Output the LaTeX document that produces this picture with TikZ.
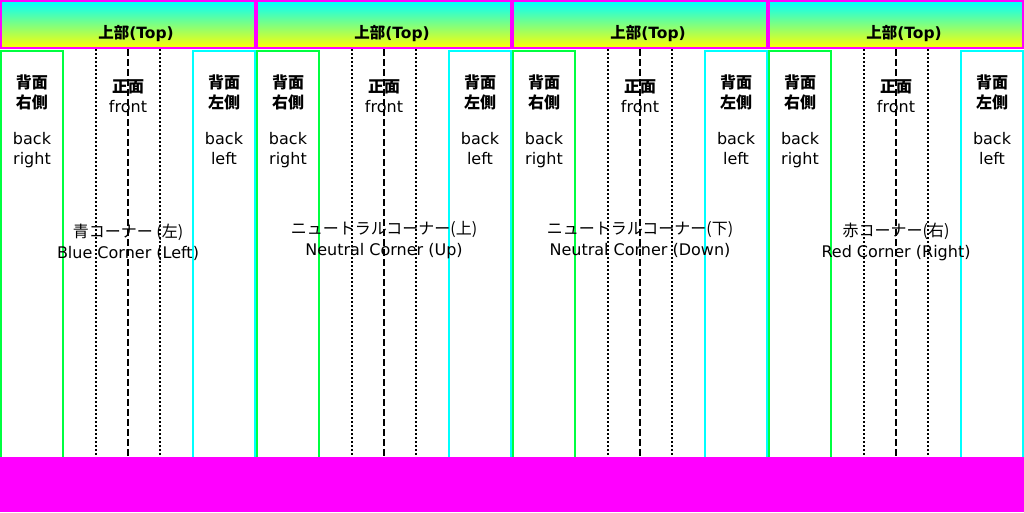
\documentclass[tikz,border=0pt]{standalone}
\usepackage{fontspec}
\setmainfont{DejaVu Sans}
\newfontfamily\jpfont{Noto Sans CJK JP}
\usetikzlibrary{positioning,calc}
\definecolor{ropemagenta}{RGB}{255,0,255}
\definecolor{barcyan}{RGB}{0,255,255}
\definecolor{baryellow}{RGB}{255,255,0}
\definecolor{rightgreen}{RGB}{0,255,64}
\definecolor{leftcyan}{RGB}{0,255,255}
\newcommand{\jp}[1]{{\jpfont #1}}

\begin{document}
\begin{tikzpicture}[x=1pt, y=-1pt,
  font=\fontsize{16}{20}\selectfont,
  topbar/.style={rectangle, draw=ropemagenta, line width=2pt, top color=barcyan, bottom color=baryellow, minimum width=254pt, minimum height=47pt, inner sep=0pt},
  toptext/.style={inner sep=0pt, xshift=8pt, font=\fontsize{15.5}{20}\selectfont\bfseries},
  backright/.style={rectangle, draw=rightgreen, line width=2pt, minimum width=62pt, minimum height=407pt, inner sep=0pt},
  backleft/.style={rectangle, draw=leftcyan, line width=2pt, minimum width=62pt, minimum height=407pt, inner sep=0pt},
  sidetext/.style={inner sep=0pt, align=center},
  cornertext/.style={inner sep=0pt, align=center, font=\fontsize{16}{21}\selectfont},
  centerline/.style={draw=black, line width=2pt, dash pattern=on 7pt off 3pt},
  sideline/.style={draw=black, line width=2pt, dash pattern=on 2pt off 2pt},
  floorbar/.style={rectangle, fill=ropemagenta, minimum width=1024pt, minimum height=55pt, inner sep=0pt}
]
\useasboundingbox (0,0) rectangle (1024,512);
\fill[white] (0,0) rectangle (1024,512);

% top bars
\node[topbar] (t1) at (128,24.5) {};
\node[topbar] (t2) at (384,24.5) {};
\node[topbar] (t3) at (640,24.5) {};
\node[topbar] (t4) at (896,24.5) {};
\node[toptext, above=7pt of t1.south] {\jp{上部}(Top)};
\node[toptext, above=7pt of t2.south] {\jp{上部}(Top)};
\node[toptext, above=7pt of t3.south] {\jp{上部}(Top)};
\node[toptext, above=7pt of t4.south] {\jp{上部}(Top)};

% back sides
\node[backright] (br1) at (32,254.5) {};
\node[backleft]  (bl1) at (224,254.5) {};
\node[backright] (br2) at (288,254.5) {};
\node[backleft]  (bl2) at (480,254.5) {};
\node[backright] (br3) at (544,254.5) {};
\node[backleft]  (bl3) at (736,254.5) {};
\node[backright] (br4) at (800,254.5) {};
\node[backleft]  (bl4) at (992,254.5) {};

% floor
\node[floorbar] (floor) at (512,484.5) {};

% front lines
\draw[sideline] ($(t1.south)+(-32,0)$) -- ($(t1.south |- floor.north)+(-32,0)$);
\draw[centerline] (t1.south) -- (t1.south |- floor.north);
\draw[sideline] ($(t1.south)+(32,0)$) -- ($(t1.south |- floor.north)+(32,0)$);
\draw[sideline] ($(t2.south)+(-32,0)$) -- ($(t2.south |- floor.north)+(-32,0)$);
\draw[centerline] (t2.south) -- (t2.south |- floor.north);
\draw[sideline] ($(t2.south)+(32,0)$) -- ($(t2.south |- floor.north)+(32,0)$);
\draw[sideline] ($(t3.south)+(-32,0)$) -- ($(t3.south |- floor.north)+(-32,0)$);
\draw[centerline] (t3.south) -- (t3.south |- floor.north);
\draw[sideline] ($(t3.south)+(32,0)$) -- ($(t3.south |- floor.north)+(32,0)$);
\draw[sideline] ($(t4.south)+(-32,0)$) -- ($(t4.south |- floor.north)+(-32,0)$);
\draw[centerline] (t4.south) -- (t4.south |- floor.north);
\draw[sideline] ($(t4.south)+(32,0)$) -- ($(t4.south |- floor.north)+(32,0)$);

% side labels
\node[sidetext, below=25pt of br1.north] {\jp{\textbf{背面}}\\\jp{\textbf{右側}}\\[16pt]back\\right};
\node[sidetext, below=25pt of bl1.north] {\jp{\textbf{背面}}\\\jp{\textbf{左側}}\\[16pt]back\\left};
\node[sidetext, below=30pt of t1.south] {\jp{\textbf{正面}}\\front};
\node[sidetext, below=25pt of br2.north] {\jp{\textbf{背面}}\\\jp{\textbf{右側}}\\[16pt]back\\right};
\node[sidetext, below=25pt of bl2.north] {\jp{\textbf{背面}}\\\jp{\textbf{左側}}\\[16pt]back\\left};
\node[sidetext, below=30pt of t2.south] {\jp{\textbf{正面}}\\front};
\node[sidetext, below=25pt of br3.north] {\jp{\textbf{背面}}\\\jp{\textbf{右側}}\\[16pt]back\\right};
\node[sidetext, below=25pt of bl3.north] {\jp{\textbf{背面}}\\\jp{\textbf{左側}}\\[16pt]back\\left};
\node[sidetext, below=30pt of t3.south] {\jp{\textbf{正面}}\\front};
\node[sidetext, below=25pt of br4.north] {\jp{\textbf{背面}}\\\jp{\textbf{右側}}\\[16pt]back\\right};
\node[sidetext, below=25pt of bl4.north] {\jp{\textbf{背面}}\\\jp{\textbf{左側}}\\[16pt]back\\left};
\node[sidetext, below=30pt of t4.south] {\jp{\textbf{正面}}\\front};

% corner labels
\node[cornertext, below=175pt of t1.south] (c1) {\jp{青コーナー (左)}\\Blue Corner (Left)};
\node[cornertext, below=172pt of t2.south] (c2) {\jp{ニュートラルコーナー(上)}\\Neutral Corner (Up)};
\node[cornertext, below=172pt of t3.south] (c3) {\jp{ニュートラルコーナー(下)}\\Neutral Corner (Down)};
\node[cornertext, below=174pt of t4.south] (c4) {\jp{赤コーナー(右)}\\Red Corner (Right)};
\end{tikzpicture}
\end{document}
